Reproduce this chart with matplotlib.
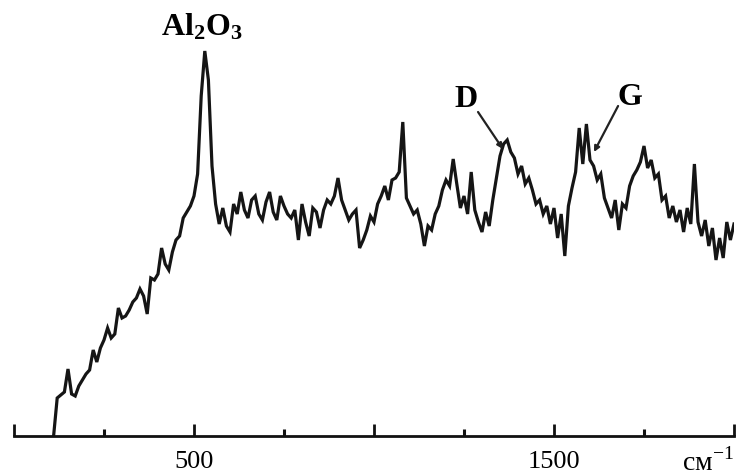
import numpy as np
import matplotlib
matplotlib.use("Agg")
import matplotlib.pyplot as plt

plt.rcParams['font.family'] = ['Liberation Serif', 'DejaVu Serif']
plt.rcParams['mathtext.fontset'] = 'custom'
plt.rcParams['mathtext.rm'] = 'Liberation Serif'
plt.rcParams['mathtext.bf'] = 'Liberation Serif:bold'

# Raman shift, cm-1 (one reading every 10 cm-1)
wavenumber = np.arange(110, 2001, 10)

# intensity (arbitrary units)
intensity = [
    0, 38, 41, 44, 67, 42, 40, 50, 56,                    # 110-190
    62, 66, 86, 74, 88, 96, 108, 98, 102, 128,            # 200-290
    118, 120, 126, 134, 138, 147, 140, 122, 158, 156,     # 300-390
    162, 188, 172, 166, 184, 196, 200, 218, 224, 230,     # 400-490
    240, 262, 340, 385, 356, 270, 232, 212, 228, 210,     # 500-590
    204, 232, 222, 244, 226, 218, 236, 240, 222, 216,     # 600-690
    234, 244, 224, 216, 240, 230, 222, 218, 226, 196,     # 700-790
    232, 214, 200, 228, 224, 208, 226, 236, 232, 240,     # 800-890
    258, 236, 226, 216, 222, 226, 188, 196, 206, 220,     # 900-990
    214, 232, 240, 250, 236, 256, 258, 264, 314, 238,     # 1000-1090
    230, 222, 226, 212, 190, 210, 206, 222, 230, 246,     # 1100-1190
    256, 250, 277, 252, 228, 240, 222, 264, 226, 214,     # 1200-1290
    204, 224, 210, 236, 258, 280, 292, 296, 284, 278,     # 1300-1390
    262, 270, 252, 258, 246, 232, 236, 222, 230, 212,     # 1400-1490
    228, 198, 222, 180, 230, 248, 264, 308, 272, 312,     # 1500-1590
    276, 270, 256, 262, 238, 228, 218, 236, 206, 232,     # 1600-1690
    228, 250, 260, 266, 274, 290, 268, 276, 258, 262,     # 1700-1790
    236, 240, 218, 230, 214, 226, 204, 228, 212, 272,     # 1800-1890
    214, 200, 216, 190, 208, 176, 198, 178, 214, 196,     # 1900-1990
    212,                                                  # 2000
]

major_ticks = [0, 500, 1000, 1500, 2000]
major_labels = ['', '500', '', '1500', '']
minor_ticks = [250, 750, 1250, 1750]

fig = plt.figure(figsize=(7.36, 4.77), dpi=100)
ax = fig.add_axes([14 / 736, 1 - 437 / 477, 720 / 736, 437 / 477])

ax.plot(wavenumber, intensity, color='#151515', lw=2.3, solid_joinstyle='miter')

ax.set_xlim(0, 2000)
ax.set_ylim(0, 437)

for side in ['top', 'left', 'right']:
    ax.spines[side].set_visible(False)
ax.spines['bottom'].set_linewidth(2.0)
ax.spines['bottom'].set_color('#111111')

ax.set_yticks([])
ax.set_xticks(major_ticks)
ax.set_xticklabels(major_labels)
ax.set_xticks(minor_ticks, minor=True)
ax.tick_params(axis='x', which='major', direction='in', length=9, width=2.0,
               pad=10, labelsize=19, color='#111111')
ax.tick_params(axis='x', which='minor', direction='in', length=5, width=2.2,
               color='#111111')

# peak labels
ax.text(523, 401, r'$\mathbf{Al_2O_3}$', ha='center', va='baseline', fontsize=23)
ax.text(1256, 330, 'D', ha='center', va='baseline', fontsize=23, fontweight='bold')
ax.text(1711, 332, 'G', ha='center', va='baseline', fontsize=23, fontweight='bold')
ax.annotate('', xy=(1358, 287), xytext=(1289, 324),
            arrowprops=dict(arrowstyle='-|>', color='#222222', lw=1.6,
                            mutation_scale=8, shrinkA=0, shrinkB=0))
ax.annotate('', xy=(1611, 284), xytext=(1678, 330),
            arrowprops=dict(arrowstyle='-|>', color='#222222', lw=1.6,
                            mutation_scale=8, shrinkA=0, shrinkB=0))

fig.text(682 / 736, 1 - 471 / 477, 'см$^{-1}$', ha='left', va='baseline', fontsize=20)

fig.savefig('out.png', dpi=100, facecolor='white')
